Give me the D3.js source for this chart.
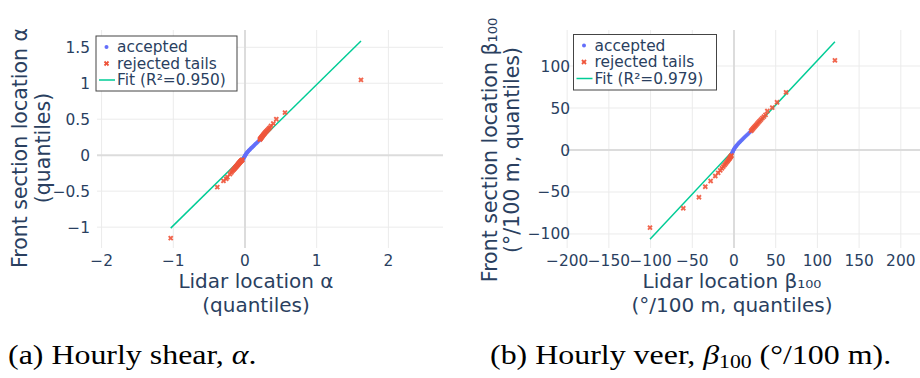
<!DOCTYPE html>
<html>
<head>
<meta charset="utf-8">
<script src="https://cdn.jsdelivr.net/npm/d3@7"></script>
<style>
  html, body { margin: 0; padding: 0; background: #fff; }
  svg { display: block; }
</style>
</head>
<body>
<svg id="fig" width="920" height="378"></svg>
<script>
// ---- Panel (a): hourly shear alpha, Q-Q of location parameter ----
const alphaAcceptedX = [-0.030,-0.022,-0.016,-0.011,-0.006,-0.002,0.003,0.008,0.013,0.018,0.024,0.030,0.036,0.043,0.050,0.058,0.066,0.075,0.084,0.094,0.104,0.115,0.126,0.138,0.150,0.163,0.176,0.190,0.204];
const alphaAcceptedY = [-0.062,-0.048,-0.037,-0.027,-0.018,-0.010,-0.002,0.006,0.014,0.021,0.029,0.036,0.044,0.052,0.060,0.068,0.077,0.086,0.095,0.105,0.115,0.125,0.136,0.147,0.159,0.171,0.184,0.197,0.211];
const alphaRejectedX = [-1.036,-0.386,-0.300,-0.262,-0.245,-0.210,-0.190,-0.177,-0.165,-0.155,-0.146,-0.138,-0.130,-0.123,-0.116,-0.110,-0.104,-0.098,-0.092,-0.087,-0.082,-0.077,-0.072,-0.067,-0.062,-0.057,-0.052,-0.047,-0.042,-0.037,
  0.208,0.213,0.218,0.224,0.230,0.236,0.243,0.250,0.258,0.266,0.275,0.284,0.294,0.305,0.318,0.332,0.345,0.363,0.395,0.437,0.558,1.618];
const alphaRejectedY = [-1.153,-0.444,-0.357,-0.330,-0.306,-0.262,-0.240,-0.222,-0.208,-0.196,-0.186,-0.176,-0.167,-0.159,-0.151,-0.143,-0.136,-0.129,-0.122,-0.116,-0.110,-0.104,-0.098,-0.093,-0.087,-0.082,-0.077,-0.072,-0.068,-0.064,
  0.218,0.225,0.232,0.240,0.248,0.256,0.265,0.274,0.284,0.294,0.305,0.316,0.328,0.340,0.354,0.368,0.382,0.407,0.440,0.500,0.592,1.046];
const alphaFitX = [-1.036, 1.618];
const alphaFitY = [-1.014, 1.588];
const alphaR2 = "0.950";
const alphaTicksX = [-2, -1, 0, 1, 2];
const alphaTicksY = [-1, -0.5, 0, 0.5, 1, 1.5];

// ---- Panel (b): hourly veer beta100 ----
const betaAcceptedX = [-2.6,-1.8,-1.2,-0.7,-0.2,0.3,0.9,1.5,2.2,2.9,3.7,4.5,5.4,6.3,7.3,8.3,9.4,10.5,11.7,12.9,14.2,15.5,16.9,18.3,19.6];
const betaAcceptedY = [-4.0,-2.6,-1.4,-0.4,0.6,1.5,2.4,3.3,4.2,5.1,6.0,6.9,7.9,8.9,9.9,10.9,12.0,13.1,14.2,15.4,16.6,17.8,19.1,20.4,21.7];
const betaRejectedX = [-100.7,-60.8,-42.0,-34.4,-28.0,-22.4,-19.0,-16.5,-14.5,-12.8,-11.3,-10.0,-8.9,-7.9,-7.0,-6.2,-5.5,-4.8,-4.2,-3.6,-3.1,
  20.5,21.5,22.5,23.5,24.6,25.7,26.9,28.1,29.4,30.8,32.3,34.0,35.8,37.8,40.0,45.9,51.6,62.4,121.0];
const betaRejectedY = [-92.5,-69.4,-56.3,-43.7,-36.9,-31.0,-27.2,-24.2,-21.8,-19.7,-17.8,-16.2,-14.8,-13.5,-12.3,-11.2,-10.2,-9.2,-8.3,-7.4,-6.6,
  22.8,23.9,25.1,26.3,27.5,28.8,30.1,31.5,33.0,34.5,36.1,37.9,39.8,41.9,46.4,50.4,56.8,68.7,106.8];
const betaFitX = [-100.7, 121.0];
const betaFitY = [-106.3, 128.9];
const betaR2 = "0.979";
const betaTicksX = [-200, -150, -100, -50, 0, 50, 100, 150, 200];
const betaTicksY = [-100, -50, 0, 50, 100];

const COL_ACC = "#636efa", COL_REJ = "#ef553b", COL_FIT = "#00cc96";
const TXT = "#2a3f5f";
const FONT = "'DejaVu Sans', Verdana, sans-serif";

const svg = d3.select("#fig");
const fmt = v => (v < 0 ? "\u2212" + Math.abs(v) : String(v));
const xSymbol = d3.symbol().type(d3.symbolCross).size(18);

function panel(cfg) {
  const g = svg.append("g");
  const x = d3.scaleLinear().domain(cfg.xDomain).range([cfg.left, cfg.right]);
  const y = d3.scaleLinear().domain(cfg.yDomain).range([cfg.bottom, cfg.top]);

  const clipId = "clip-" + cfg.id;
  svg.append("clipPath").attr("id", clipId).append("rect")
    .attr("x", cfg.left).attr("y", cfg.top)
    .attr("width", cfg.right - cfg.left).attr("height", cfg.bottom - cfg.top);

  // grid
  const grid = g.append("g");
  grid.selectAll("line.gx").data(cfg.ticksX.filter(t => t !== 0)).join("line")
    .attr("x1", d => x(d)).attr("x2", d => x(d))
    .attr("y1", cfg.top).attr("y2", cfg.bottom)
    .attr("stroke", "#ebebeb").attr("stroke-width", 1);
  grid.selectAll("line.gy").data(cfg.ticksY.filter(t => t !== 0)).join("line")
    .attr("y1", d => y(d)).attr("y2", d => y(d))
    .attr("x1", cfg.left).attr("x2", cfg.right)
    .attr("stroke", "#ebebeb").attr("stroke-width", 1);
  // zero lines
  grid.append("line").attr("x1", x(0)).attr("x2", x(0))
    .attr("y1", cfg.top).attr("y2", cfg.bottom)
    .attr("stroke", "#dcdcdc").attr("stroke-width", 2);
  grid.append("line").attr("y1", y(0)).attr("y2", y(0))
    .attr("x1", cfg.left).attr("x2", cfg.right)
    .attr("stroke", "#dcdcdc").attr("stroke-width", 2);

  // tick labels
  g.append("g").selectAll("text").data(cfg.ticksX).join("text")
    .attr("x", d => x(d)).attr("y", cfg.xTickBaseline)
    .attr("text-anchor", "middle")
    .attr("font-family", FONT).attr("font-size", 15.4).attr("fill", TXT)
    .text(fmt);
  g.append("g").selectAll("text").data(cfg.ticksY).join("text")
    .attr("x", cfg.yTickRight).attr("y", d => y(d) + 5.5)
    .attr("text-anchor", "end")
    .attr("font-family", FONT).attr("font-size", 15.4).attr("fill", TXT)
    .text(fmt);

  // data
  const plot = g.append("g").attr("clip-path", `url(#${clipId})`);
  const fit = cfg.fitX.map((v, i) => [v, cfg.fitY[i]]);
  plot.append("path").datum(fit)
    .attr("d", d3.line().x(d => x(d[0])).y(d => y(d[1])))
    .attr("fill", "none").attr("stroke", COL_FIT).attr("stroke-width", 1.5);
  const acc = cfg.accX.map((v, i) => [v, cfg.accY[i]]);
  plot.selectAll("circle").data(acc).join("circle")
    .attr("cx", d => x(d[0])).attr("cy", d => y(d[1])).attr("r", 2)
    .attr("fill", COL_ACC).attr("fill-opacity", 0.85);
  const rej = cfg.rejX.map((v, i) => [v, cfg.rejY[i]]);
  plot.selectAll("path.rej").data(rej).join("path").attr("class", "rej")
    .attr("d", xSymbol)
    .attr("transform", d => `translate(${x(d[0])},${y(d[1])}) rotate(45)`)
    .attr("fill", COL_REJ).attr("fill-opacity", 0.9);

  // axis titles, one text element per line
  cfg.xTitle.forEach((line, i) => {
    g.append("text").attr("text-anchor", "middle")
      .attr("font-family", FONT).attr("font-size", 20).attr("fill", TXT)
      .attr("x", cfg.xTitleX).attr("y", cfg.xTitleY[i]).text(line);
  });
  cfg.yTitle.forEach((line, i) => {
    g.append("text").attr("text-anchor", "middle")
      .attr("font-family", FONT).attr("font-size", 20.5).attr("fill", TXT)
      .attr("transform", `rotate(-90)`)
      .attr("x", -cfg.yTitleY).attr("y", cfg.yTitleX[i]).text(line);
  });

  // legend
  const L = cfg.legend;
  const lg = g.append("g");
  lg.append("rect").attr("x", L.x).attr("y", L.y).attr("width", L.w).attr("height", L.h)
    .attr("fill", "#fff").attr("stroke", "#444").attr("stroke-width", 1);
  const rows = [L.y + 16, L.y + 32.5, L.y + 49];
  lg.append("circle").attr("cx", L.x + 10.5).attr("cy", rows[0] - 5).attr("r", 2)
    .attr("fill", COL_ACC);
  lg.append("path").attr("d", xSymbol)
    .attr("transform", `translate(${L.x + 10.5},${rows[1] - 5}) rotate(45)`)
    .attr("fill", COL_REJ);
  lg.append("line").attr("x1", L.x + 3).attr("x2", L.x + 19)
    .attr("y1", rows[2] - 5).attr("y2", rows[2] - 5)
    .attr("stroke", COL_FIT).attr("stroke-width", 1.5);
  const labels = ["accepted", "rejected tails", `Fit (R\u00b2=${cfg.r2})`];
  lg.selectAll("text").data(labels).join("text")
    .attr("x", L.x + 21).attr("y", (d, i) => rows[i])
    .attr("font-family", FONT).attr("font-size", 15.4).attr("fill", TXT)
    .text(d => d);
}

panel({
  id: "a",
  left: 97, right: 443, top: 30, bottom: 248,
  xDomain: [-2.064, 2.762], yDomain: [-1.290, 1.740],
  ticksX: alphaTicksX, ticksY: alphaTicksY,
  accX: alphaAcceptedX, accY: alphaAcceptedY,
  rejX: alphaRejectedX, rejY: alphaRejectedY,
  fitX: alphaFitX, fitY: alphaFitY, r2: alphaR2,
  xTickBaseline: 266, yTickRight: 90,
  xTitle: ["Lidar location \u03b1", "(quantiles)"], xTitleX: 256, xTitleY: [288, 312],
  yTitle: ["Front section location \u03b1", "(quantiles)"], yTitleX: [27, 50], yTitleY: 148,
  legend: { x: 96, y: 36, w: 141, h: 55 }
});

panel({
  id: "b",
  left: 566, right: 920, top: 30, bottom: 248,
  xDomain: [-201.4, 223.0], yDomain: [-116.7, 142.9],
  ticksX: betaTicksX, ticksY: betaTicksY,
  accX: betaAcceptedX, accY: betaAcceptedY,
  rejX: betaRejectedX, rejY: betaRejectedY,
  fitX: betaFitX, fitY: betaFitY, r2: betaR2,
  xTickBaseline: 266, yTickRight: 570,
  xTitle: ["Lidar location \u03b2\u2081\u2080\u2080", "(\u00b0/100 m, quantiles)"], xTitleX: 732, xTitleY: [288, 312],
  yTitle: ["Front section location \u03b2\u2081\u2080\u2080", "(\u00b0/100 m, quantiles)"], yTitleX: [497, 519], yTitleY: 150,
  legend: { x: 573.5, y: 34.5, w: 143, h: 55.5 }
});

// sub-figure captions (serif, slightly widened)
const SERIF = "'Liberation Serif', 'DejaVu Serif', serif";
const capA = svg.append("text")
  .attr("transform", "translate(8,364) scale(1.205,1)")
  .attr("font-family", SERIF).attr("font-size", 26.5).attr("fill", "#000");
capA.append("tspan").text("(a) Hourly shear, ");
capA.append("tspan").attr("font-style", "italic").text("\u03b1");
capA.append("tspan").text(".");

const capB = svg.append("text")
  .attr("transform", "translate(490,364) scale(1.205,1)")
  .attr("font-family", SERIF).attr("font-size", 26.5).attr("fill", "#000");
capB.append("tspan").text("(b) Hourly veer, ");
capB.append("tspan").attr("font-style", "italic").text("\u03b2");
capB.append("tspan").attr("font-size", 18).attr("dy", 4).text("100");
capB.append("tspan").attr("dy", -4).text(" (\u00b0/100 m).");
</script>
</body>
</html>
